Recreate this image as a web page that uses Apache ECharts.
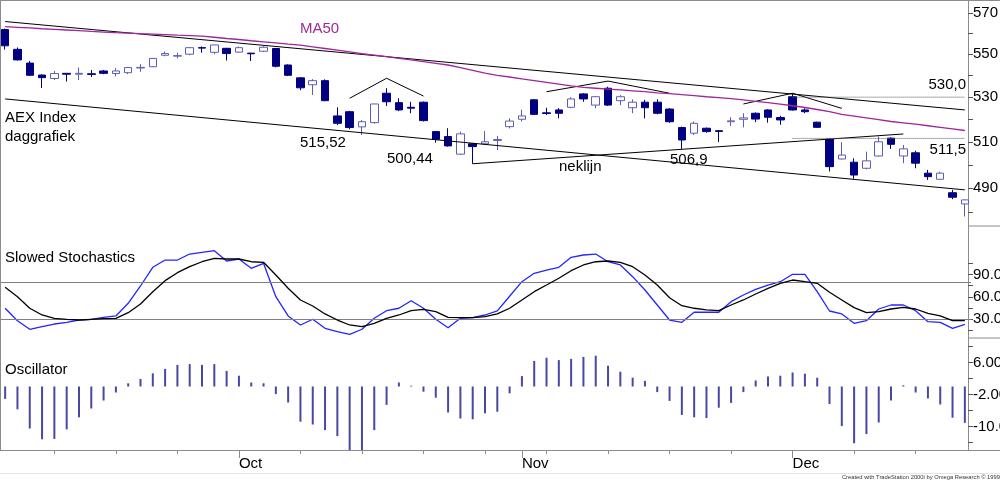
<!DOCTYPE html>
<html>
<head>
<meta charset="utf-8">
<title>AEX Index daggrafiek</title>
<script src="https://cdn.jsdelivr.net/npm/echarts@6/dist/echarts.min.js"></script>
<style>
    html, body { margin: 0; padding: 0; background: #fff; }
    #main { width: 1000px; height: 481px; }
</style>
</head>
<body>
<div id="main"></div>
<script>
// AEX Index daggrafiek - koers, Slowed Stochastics en Oscillator

var dates = [
    '2001-09-04', '2001-09-05', '2001-09-06', '2001-09-07', '2001-09-10', '2001-09-11', '2001-09-12', '2001-09-13',
    '2001-09-14', '2001-09-17', '2001-09-18', '2001-09-19', '2001-09-20', '2001-09-21', '2001-09-24', '2001-09-25',
    '2001-09-26', '2001-09-27', '2001-09-28', '2001-10-01', '2001-10-02', '2001-10-03', '2001-10-04', '2001-10-05',
    '2001-10-08', '2001-10-09', '2001-10-10', '2001-10-11', '2001-10-12', '2001-10-15', '2001-10-16', '2001-10-17',
    '2001-10-18', '2001-10-19', '2001-10-22', '2001-10-23', '2001-10-24', '2001-10-25', '2001-10-26', '2001-10-29',
    '2001-10-30', '2001-10-31', '2001-11-01', '2001-11-02', '2001-11-05', '2001-11-06', '2001-11-07', '2001-11-08',
    '2001-11-09', '2001-11-12', '2001-11-13', '2001-11-14', '2001-11-15', '2001-11-16', '2001-11-19', '2001-11-20',
    '2001-11-21', '2001-11-22', '2001-11-23', '2001-11-26', '2001-11-27', '2001-11-28', '2001-11-29', '2001-11-30',
    '2001-12-03', '2001-12-04', '2001-12-05', '2001-12-06', '2001-12-07', '2001-12-10', '2001-12-11', '2001-12-12',
    '2001-12-13', '2001-12-14', '2001-12-17', '2001-12-18', '2001-12-19', '2001-12-20', '2001-12-21'
];

// [open, close, low, high]
var ohlc = [
    [561.8, 554.0, 552.2, 562.3], [552.3, 547.3, 547.0, 553.2], [545.8, 540.1, 539.8, 546.8], [540.2, 539.0, 534.2, 540.5],
    [538.6, 540.9, 537.9, 542.1], [541.0, 540.6, 537.2, 541.2], [540.6, 541.0, 537.9, 543.7], [540.8, 540.5, 539.3, 542.6],
    [542.1, 541.0, 540.6, 542.6], [540.9, 542.1, 539.6, 543.4], [541.3, 543.7, 540.6, 544.0], [543.5, 543.8, 541.7, 545.3],
    [544.1, 548.0, 543.9, 548.2], [549.5, 550.3, 549.0, 551.3], [549.1, 549.3, 548.0, 550.7], [550.0, 553.1, 549.5, 553.3],
    [553.1, 552.9, 550.7, 553.7], [550.9, 554.4, 550.0, 554.5], [552.8, 550.3, 547.0, 553.0], [551.0, 553.1, 550.7, 553.7],
    [550.5, 550.2, 546.8, 550.6], [551.4, 553.3, 551.0, 553.7], [552.7, 544.3, 543.8, 553.0], [544.9, 540.1, 539.7, 545.2],
    [538.9, 534.3, 533.2, 539.3], [535.7, 537.6, 531.0, 538.3], [537.6, 528.4, 528.2, 538.2], [521.5, 518.2, 517.4, 525.4],
    [523.4, 516.3, 515.52, 523.8], [516.6, 518.9, 513.0, 519.7], [518.5, 526.9, 518.0, 527.0], [531.8, 527.9, 526.0, 534.1],
    [527.5, 524.2, 523.7, 529.5], [525.4, 525.0, 522.7, 527.9], [527.7, 519.4, 519.0, 528.0], [514.5, 511.1, 509.6, 514.6],
    [512.3, 508.2, 507.9, 516.0], [504.6, 513.5, 504.3, 514.5], [509.1, 507.9, 500.44, 509.3], [509.1, 510.0, 508.7, 514.8],
    [510.6, 511.0, 506.4, 512.6], [516.7, 519.2, 515.9, 520.4], [520.0, 521.5, 519.0, 524.3], [528.8, 522.2, 522.0, 529.0],
    [522.9, 522.6, 521.9, 525.2], [524.2, 522.7, 520.4, 525.0], [525.4, 529.2, 525.0, 530.0], [531.5, 529.2, 527.9, 531.8],
    [526.4, 530.2, 525.0, 530.5], [534.1, 526.4, 526.0, 534.8], [528.4, 530.2, 526.4, 531.0], [525.2, 527.7, 522.7, 529.0],
    [527.7, 525.2, 520.4, 528.8], [527.7, 522.7, 522.2, 529.0], [524.6, 518.9, 518.4, 525.0], [516.3, 510.8, 506.9, 516.7],
    [513.8, 518.2, 513.0, 519.0], [516.0, 514.5, 514.0, 516.3], [514.9, 514.6, 509.9, 515.2], [518.9, 519.3, 517.0, 520.9],
    [520.0, 520.6, 516.4, 522.7], [522.7, 520.1, 518.7, 523.1], [524.2, 520.9, 518.5, 524.5], [520.8, 519.7, 517.5, 521.6],
    [530.2, 524.2, 523.9, 531.6], [524.2, 523.4, 522.7, 525.0], [518.7, 516.4, 516.2, 518.9], [511.1, 499.2, 497.1, 511.4],
    [502.5, 504.2, 502.3, 509.8], [501.1, 495.6, 494.0, 502.8], [498.5, 501.7, 498.0, 505.7], [503.8, 510.0, 503.5, 512.3],
    [511.6, 508.9, 506.9, 512.0], [503.8, 506.9, 500.7, 508.6], [505.2, 500.7, 498.5, 506.1], [496.4, 494.9, 493.5, 497.8],
    [493.8, 496.4, 493.5, 497.0], [488.1, 486.2, 485.4, 489.3], [483.4, 485.1, 478.2, 485.3]
];

var ma50 = [
    563.2, 562.9, 562.6, 562.2, 561.9, 561.6, 561.3, 560.9, 560.6, 560.3,
    560.1, 559.8, 559.6, 559.4, 559.1, 558.9, 558.6, 558.1, 557.5, 557.0,
    556.4, 555.9, 555.4, 554.8, 554.3, 553.5, 552.7, 551.9, 551.1, 550.3,
    549.6, 548.8, 548.0, 547.3, 546.5, 545.7, 544.9, 543.7, 542.4, 541.1,
    540.1, 539.3, 538.4, 537.6, 536.8, 536.0, 535.2, 534.5, 534.1, 533.7,
    533.3, 532.9, 532.5, 532.0, 531.6, 531.2, 530.7, 530.2, 529.8, 529.3,
    528.8, 528.1, 527.5, 526.8, 526.1, 525.3, 524.4, 523.4, 522.2, 521.4,
    520.6, 519.8, 519.0, 518.4, 517.8, 517.1, 516.4, 515.7, 515.0
];

var stochK = [
    44.5, 27.7, 16.1, 19.6, 23.2, 25.5, 28.6, 29.6, 32.3, 34.1,
    51.2, 74.6, 99.9, 109.7, 109.7, 117.8, 120.1, 122.3, 108.4, 111.1,
    98.5, 105.3, 60.1, 34.1, 21.9, 29.6, 17.4, 12.8, 9.3, 16.1,
    30.9, 41.2, 44.5, 54.7, 44.5, 29.6, 18.2, 30.9, 31.8, 35.4,
    41.0, 60.7, 80.4, 91.8, 96.2, 99.9, 113.4, 116.5, 117.8, 107.4,
    103.0, 87.2, 69.2, 48.9, 28.6, 25.5, 39.1, 39.1, 39.1, 53.4,
    62.4, 70.1, 75.9, 80.4, 90.4, 90.4, 66.9, 40.8, 36.8, 24.2,
    27.7, 43.5, 48.9, 48.9, 41.2, 26.4, 25.5, 17.4, 22.8
];

var stochD = [
    72.8, 60.1, 44.5, 35.4, 30.9, 29.6, 28.6, 29.6, 30.4, 30.9,
    38.5, 50.3, 66.9, 81.8, 92.6, 100.7, 107.4, 112.0, 111.1, 111.1,
    107.4, 106.6, 89.5, 71.5, 55.7, 47.6, 36.8, 28.6, 21.9, 19.6,
    24.2, 30.9, 35.4, 41.2, 43.1, 39.9, 32.3, 31.8, 31.8, 33.1,
    36.8, 44.5, 55.7, 66.9, 75.9, 85.0, 95.3, 103.0, 107.4, 108.4,
    106.6, 100.7, 89.5, 75.9, 58.8, 48.0, 44.5, 42.2, 41.2, 48.9,
    55.7, 63.8, 71.5, 78.2, 82.7, 80.4, 78.2, 66.1, 55.7, 45.3,
    38.5, 39.9, 43.5, 45.8, 43.5, 37.7, 34.1, 27.7, 27.7
];

var oscillator = [
    -3.1, -5.7, -10.5, -13.2, -13.1, -10.7, -7.7, -5.5, -3.5, -1.5,
    0.8, 1.9, 3.3, 4.4, 5.4, 5.6, 5.4, 5.6, 3.9, 2.7,
    1.0, 0.8, -1.9, -4.0, -8.8, -9.5, -10.9, -12.4, -16.0, -16.3,
    -10.9, -4.6, 1.0, 0.2, -1.3, -2.8, -6.5, -8.0, -8.2, -6.7,
    -6.3, -1.7, 2.6, 6.4, 7.2, 6.6, 6.9, 7.4, 7.7, 5.2,
    3.7, 2.2, 1.4, -1.4, -3.6, -7.1, -7.7, -7.9, -5.3, -4.1,
    -1.4, 1.5, 2.5, 2.7, 3.5, 3.2, 2.2, -4.4, -9.9, -14.2,
    -11.9, -9.0, -3.5, 0.3, -1.5, -3.0, -4.5, -7.8, -9.1
];

// getekende lijnen: [bar index, koers]
var upperTrend = [[-0.42, 565.7], [78, 524.2]];
var lowerTrend = [[-0.42, 529.2], [78, 489.3]];
var neckline = [[38, 500.44], [73, 513.45]];
var topLeft = [[28, 529.5], [31.1, 538.7], [34, 530.5]];
var topMid = [[44, 532.5], [49.1, 537.4], [54, 531.8]];
var topRight = [[60, 526.9], [64.1, 531.8], [68, 524.9]];
var level530 = [[64, 530.0], [78, 530.0]];
var level511 = [[64, 511.5], [78, 511.5]];

// assen
var priceTicks = [480, 490, 500, 510, 520, 530, 540, 550, 560, 570];
var priceLabels = [490, 510, 530, 550, 570];
var stochTicks = [15, 30, 45, 60, 75, 90, 105];
var stochLabels = [30, 60, 90];
var stochLevels = [80, 30];
var oscTicks = [10, 6, 2, -2, -6, -10, -14];
var oscLabels = [6, -2, -10];
var monthNames = ['Jan', 'Feb', 'Mar', 'Apr', 'May', 'Jun', 'Jul', 'Aug', 'Sep', 'Oct', 'Nov', 'Dec'];

var FONT = 'Liberation Sans';
var AXIS_GRAY = '#8c8c8c';

function isMonthStart(i) {
    return i > 0 && dates[i].slice(5, 7) !== dates[i - 1].slice(5, 7);
}

function isMonday(i) {
    return new Date(dates[i] + 'T00:00:00Z').getUTCDay() === 1;
}

function trendSeries(data, color, type) {
    return {
        type: 'line',
        xAxisIndex: 0,
        yAxisIndex: 0,
        data: data,
        symbol: 'none',
        silent: true,
        z: 4,
        lineStyle: { color: color || '#000', width: 1, type: type || 'solid' }
    };
}

function rightAxis(gridIndex, opt) {
    return {
        type: opt.type || 'value',
        gridIndex: gridIndex,
        position: 'right',
        offset: -3,
        min: opt.min,
        max: opt.max,
        splitLine: { show: false },
        axisLine: { show: true, lineStyle: { color: AXIS_GRAY, width: 1 } },
        axisTick: { show: true, length: 5, customValues: opt.ticks, lineStyle: { color: '#555' } },
        axisLabel: {
            show: true,
            customValues: opt.labels,
            margin: 5,
            color: '#000',
            fontSize: 15,
            fontFamily: FONT,
            formatter: opt.formatter
        }
    };
}

function text(str, x, y, extra) {
    var style = { text: str, fontSize: 15, fontFamily: FONT, fill: '#000', verticalAlign: 'middle', align: 'left' };
    for (var k in extra) style[k] = extra[k];
    return { type: 'text', x: x, y: y, z: 50, style: style };
}

function hline(x1, x2, y, color) {
    return { type: 'line', z: 40, shape: { x1: x1, y1: y, x2: x2, y2: y }, style: { stroke: color || AXIS_GRAY, lineWidth: 1 } };
}

function vline(x, y1, y2, color) {
    return { type: 'line', z: 40, shape: { x1: x, y1: y1, x2: x, y2: y2 }, style: { stroke: color || AXIS_GRAY, lineWidth: 1 } };
}

var panel = document.getElementById('main');
var myChart = echarts.init(panel);

var gridBase = { left: -1, width: 972, containLabel: false, outerBoundsMode: 'none', show: false };
function grid(top, height) {
    var g = {};
    for (var k in gridBase) g[k] = gridBase[k];
    g.top = top;
    g.height = height;
    return g;
}

var option = {
    animation: false,
    backgroundColor: '#fff',
    grid: [grid(0, 226), grid(226, 112), grid(338, 112), grid(338, 112)],
    xAxis: [
        { type: 'category', gridIndex: 0, data: dates, boundaryGap: true, show: false },
        { type: 'category', gridIndex: 1, data: dates, boundaryGap: true, show: false },
        {
            type: 'category', gridIndex: 2, data: dates, boundaryGap: true, position: 'bottom',
            axisLine: { show: true, onZero: false, lineStyle: { color: AXIS_GRAY, width: 1 } },
            axisTick: {
                show: true, alignWithLabel: true, length: 4,
                interval: function (i) { return isMonday(i); },
                lineStyle: { color: AXIS_GRAY }
            },
            axisLabel: { show: false },
            splitLine: { show: false }
        },
        {
            type: 'category', gridIndex: 3, data: dates, boundaryGap: true, position: 'bottom',
            axisLine: { show: false, onZero: false },
            axisTick: {
                show: true, alignWithLabel: true, length: 8,
                interval: function (i) { return isMonthStart(i); },
                lineStyle: { color: AXIS_GRAY }
            },
            axisLabel: {
                show: true,
                interval: function (i) { return isMonthStart(i); },
                formatter: function (value) { return monthNames[parseInt(value.slice(5, 7), 10) - 1]; },
                align: 'left',
                margin: 6,
                color: '#000',
                fontSize: 15,
                fontFamily: FONT
            },
            splitLine: { show: false }
        }
    ],
    yAxis: [
        rightAxis(0, {
            type: 'log', min: 474.3, max: 576.3, ticks: priceTicks, labels: priceLabels,
            formatter: function (v) { return String(Math.round(v)); }
        }),
        rightAxis(1, {
            min: 4.3, max: 155.7, ticks: stochTicks, labels: stochLabels,
            formatter: function (v) { return v.toFixed(2); }
        }),
        rightAxis(2, {
            min: -15.875, max: 12.125, ticks: oscTicks, labels: oscLabels,
            formatter: function (v) { return v.toFixed(2); }
        }),
        { type: 'value', gridIndex: 3, show: false, min: -15.875, max: 12.125, splitLine: { show: false } }
    ],
    series: [
        {
            name: 'AEX',
            type: 'candlestick',
            xAxisIndex: 0,
            yAxisIndex: 0,
            data: ohlc,
            barWidth: 8,
            z: 3,
            itemStyle: {
                color: '#ffffff',
                color0: '#000080',
                borderColor: '#5d5db8',
                borderColor0: '#000080',
                borderWidth: 1
            }
        },
        {
            name: 'MA50',
            type: 'line',
            xAxisIndex: 0,
            yAxisIndex: 0,
            data: ma50,
            symbol: 'none',
            z: 5,
            lineStyle: { color: '#a0259f', width: 1.3 }
        },
        trendSeries(upperTrend),
        trendSeries(lowerTrend),
        trendSeries(neckline),
        trendSeries(topLeft),
        trendSeries(topMid),
        trendSeries(topRight),
        trendSeries(level530, '#555', 'dotted'),
        trendSeries(level511, '#555', 'dotted'),
        {
            name: '%K',
            type: 'line',
            xAxisIndex: 1,
            yAxisIndex: 1,
            data: stochK,
            symbol: 'none',
            z: 4,
            lineStyle: { color: '#2424ff', width: 1.3 }
        },
        {
            name: '%D',
            type: 'line',
            xAxisIndex: 1,
            yAxisIndex: 1,
            data: stochD,
            symbol: 'none',
            z: 5,
            lineStyle: { color: '#000', width: 1.3 },
            markLine: {
                silent: true,
                symbol: ['none', 'none'],
                label: { show: false },
                lineStyle: { color: '#808080', width: 1, type: 'solid' },
                data: stochLevels.map(function (v) { return { yAxis: v }; })
            }
        },
        {
            name: 'Oscillator',
            type: 'bar',
            xAxisIndex: 2,
            yAxisIndex: 2,
            data: oscillator,
            barWidth: 2,
            itemStyle: { color: '#4747a6' }
        }
    ],
    graphic: {
        elements: [
            // kader
            hline(0, 1000, 0.5),
            vline(0.5, 0, 450),
            hline(968, 1000, 226),
            hline(968, 1000, 338),
            hline(0, 1000, 450.5),
            hline(0, 1000, 473.5, '#e4e4e4'),
            // teksten
            text('MA50', 300, 29, { fill: '#9c2a9c' }),
            text('AEX Index', 5, 118),
            text('daggrafiek', 5, 137),
            text('515,52', 300, 143),
            text('500,44', 387, 159),
            text('neklijn', 559, 167),
            text('506,9', 670, 160),
            text('530,0', 966, 85, { align: 'right' }),
            text('511,5', 966, 150, { align: 'right' }),
            text('Slowed Stochastics', 5, 258),
            text('Oscillator', 5, 370),
            text('Created with TradeStation 2000i by Omega Research \u00a9 1999', 1000, 477, { fontSize: 5.8, fill: '#333', align: 'right' })
        ]
    }
};

myChart.setOption(option);
</script>
</body>
</html>
